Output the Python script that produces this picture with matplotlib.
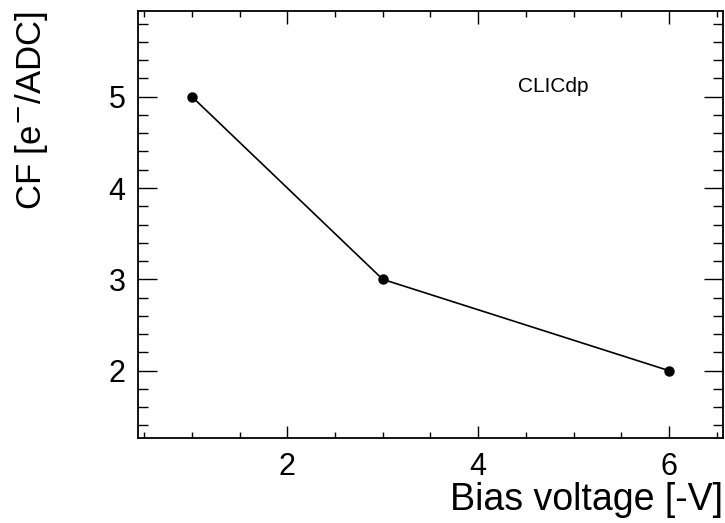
import matplotlib
matplotlib.use('Agg')
import matplotlib.pyplot as plt
from matplotlib.ticker import MultipleLocator

plt.rcParams['font.family'] = ['Liberation Sans', 'DejaVu Sans']
plt.rcParams['mathtext.fontset'] = 'custom'
plt.rcParams['mathtext.rm'] = 'Liberation Sans'
plt.rcParams['mathtext.it'] = 'Liberation Sans'

# data
bias_voltage = [1, 3, 6]
cf_values = [5, 3, 2]

fig = plt.figure(figsize=(7.25, 5.23), dpi=100)
ax = fig.add_axes([138 / 725, 1 - 437.7 / 523, (723 - 138) / 725, (437.7 - 11) / 523])

ax.plot(bias_voltage, cf_values, color='black', linewidth=1.2,
        marker='o', markersize=6.5)

ax.set_xlim(0.435, 6.566)
ax.set_ylim(1.266, 5.938)

ax.xaxis.set_major_locator(MultipleLocator(2))
ax.xaxis.set_minor_locator(MultipleLocator(0.5))
ax.yaxis.set_major_locator(MultipleLocator(1))
ax.yaxis.set_minor_locator(MultipleLocator(0.2))

for s in ax.spines.values():
    s.set_linewidth(1.3)

ax.tick_params(axis='both', which='both', direction='in', top=True, right=True,
               labelsize=22, width=1.0)
ax.tick_params(axis='x', which='major', length=9, pad=10)
ax.tick_params(axis='x', which='minor', length=4.5)
ax.tick_params(axis='y', which='major', length=14, pad=9)
ax.tick_params(axis='y', which='minor', length=7)

ax.set_xlabel('Bias voltage [-V]', fontsize=27, loc='right', labelpad=0)
ax.set_ylabel(r'CF [e$^{\mathsf{-}}$/ADC]', fontsize=25, loc='top', labelpad=42)

ax.text(0.71, 0.823, 'CLICdp', transform=ax.transAxes, fontsize=15,
        ha='center', va='center')

fig.savefig('out.png', dpi=100)
